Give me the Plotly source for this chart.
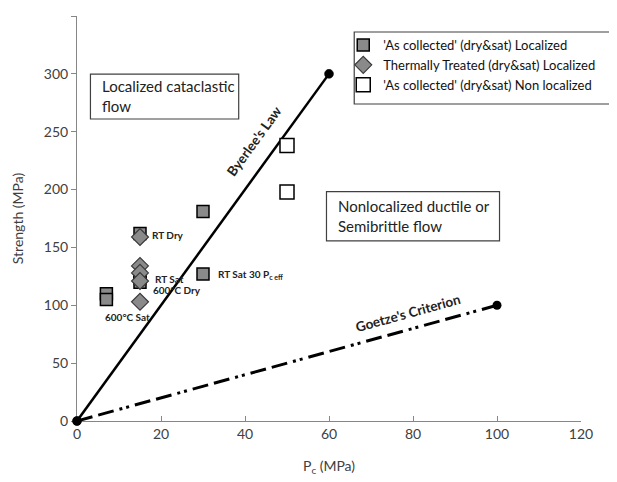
import plotly.graph_objects as go

# ---- data ----
as_loc_x = [7, 7, 15, 15, 15, 30, 30]
as_loc_y = [110, 105, 162, 124, 120, 181, 127]
tt_x = [15, 15, 15, 15, 15]
tt_y = [159, 134, 128, 121, 103]
nonloc_x = [50, 50]
nonloc_y = [238, 198]
byerlee_x = [0, 60]
byerlee_y = [0, 300]
goetze_x = [0, 100]
goetze_y = [0, 100]
x_ticks = [0, 20, 40, 60, 80, 100, 120]
y_ticks = [0, 50, 100, 150, 200, 250, 300, 350]

FONT = "Lato"
# page has an 8px body margin: figure is sized/offset so the plot lands where the reference has it
OFF = 8
W, H = 617 - OFF, 482 - OFF
L, R, T, B = 76.5 - OFF, 36, 16 - OFF, 61
PW = W - L - R
PH = H - T - B


def px_x(px):
    return (px - OFF - L) / PW


def px_y(py):
    return 1 - (py - OFF - T) / PH


fig = go.Figure()

fig.add_trace(go.Scatter(x=goetze_x, y=goetze_y, mode="lines+markers", cliponaxis=False,
                         line=dict(color="black", width=3, dash="16px,6px,16px,6px,3px,4px,3px,6px"),
                         marker=dict(size=9, color="black"), showlegend=False, hoverinfo="skip"))
fig.add_trace(go.Scatter(x=byerlee_x, y=byerlee_y, mode="lines+markers", cliponaxis=False,
                         line=dict(color="black", width=2.5),
                         marker=dict(size=9, color="black", line=dict(color="black", width=0.5)),
                         showlegend=False, hoverinfo="skip"))

fig.add_trace(go.Scatter(x=as_loc_x, y=as_loc_y, mode="markers",
                         name="'As collected' (dry&sat) Localized",
                         marker=dict(symbol="square", size=12, color="#8a8a8a",
                                     line=dict(color="black", width=1.5))))
fig.add_trace(go.Scatter(x=tt_x, y=tt_y, mode="markers",
                         name="Thermally Treated (dry&sat) Localized",
                         marker=dict(symbol="diamond", size=13, color="#8a8a8a",
                                     line=dict(color="#3a3a3a", width=1.2))))
fig.add_trace(go.Scatter(x=nonloc_x, y=nonloc_y, mode="markers",
                         name="'As collected' (dry&sat) Non localized",
                         marker=dict(symbol="square", size=14, color="white",
                                     line=dict(color="black", width=1.5))))

shapes = [
    dict(type="rect", xref="x", yref="y", x0=3.2, x1=38.5, y0=261, y1=299.7,
         line=dict(color="#404040", width=1.2), fillcolor="white", layer="below"),
    dict(type="rect", xref="x", yref="y", x0=59.4, x1=100.6, y0=155.7, y1=198.2,
         line=dict(color="#404040", width=1.2), fillcolor="white", layer="below"),
    dict(type="rect", xref="paper", yref="paper", x0=px_x(354), x1=px_x(613),
         y0=px_y(104), y1=px_y(32),
         line=dict(color="#404040", width=1.2), fillcolor="white", layer="below"),
]

small = dict(family=FONT, size=10, color="#222222")
annotations = [
    dict(x=3.2 + 2.2, y=281, xref="x", yref="y", text="Localized cataclastic<br>flow",
         showarrow=False, xanchor="left", align="left", font=dict(family=FONT, size=15, color="#222222")),
    dict(x=59.4 + 2.3, y=177, xref="x", yref="y", text="Nonlocalized ductile or<br>Semibrittle flow",
         showarrow=False, xanchor="left", align="left", font=dict(family=FONT, size=15, color="#222222")),
    dict(x=42.2, y=242, xref="x", yref="y", text="<b>Byerlee's Law</b>", showarrow=False,
         textangle=-54, font=dict(family=FONT, size=13.5, color="#222222")),
    dict(x=78.9, y=93.3, xref="x", yref="y", text="<b>Goetze's Criterion</b>", showarrow=False,
         textangle=-15.4, font=dict(family=FONT, size=13.5, color="#222222")),
    dict(x=17.3, y=161, xref="x", yref="y", text="<b>RT Dry</b>", showarrow=False, xanchor="left", font=small),
    dict(x=18.0, y=122.5, xref="x", yref="y", text="<b>RT Sat</b>", showarrow=False, xanchor="left", font=small),
    dict(x=17.7, y=113.2, xref="x", yref="y", text="<b>600°C Dry</b>", showarrow=False, xanchor="left", font=small),
    dict(x=12.0, y=89.5, xref="x", yref="y", text="<b>600°C Sat</b>", showarrow=False, font=small),
    dict(x=33.2, y=126.2, xref="x", yref="y",
         text="<b>RT Sat 30 P<sub>c eff</sub></b>", showarrow=False, xanchor="left", font=small),
]

fig.update_layout(
    width=W, height=H,
    margin=dict(l=L, r=R, t=T, b=B, autoexpand=False),
    paper_bgcolor="white", plot_bgcolor="white",
    font=dict(family=FONT, color="#595959"),
    shapes=shapes, annotations=annotations,
    legend=dict(x=px_x(343), y=px_y(30), xanchor="left", yanchor="top",
                bgcolor="rgba(0,0,0,0)", borderwidth=0,
                font=dict(family=FONT, size=13, color="#111111"), tracegroupgap=0),
    xaxis=dict(range=[0, 120], tickvals=x_ticks, showgrid=False, zeroline=False,
               showline=True, linecolor="#868686", linewidth=1, layer="below traces",
               ticks="inside", ticklen=5, tickcolor="#868686",
               tickfont=dict(family=FONT, size=14, color="#404040"),
               title=dict(text="P<sub>c</sub> (MPa)", font=dict(family=FONT, size=14, color="#404040"),
                          standoff=20)),
    yaxis=dict(range=[0, 350], tickvals=y_ticks, showgrid=False, zeroline=False,
               showline=True, linecolor="#868686", linewidth=1, layer="below traces",
               ticks="outside", ticklen=5, tickcolor="#868686",
               tickfont=dict(family=FONT, size=14, color="#404040"),
               title=dict(text="Strength (MPa)", font=dict(family=FONT, size=14, color="#404040"),
                          standoff=16)),
)

fig.write_html("out.html")
